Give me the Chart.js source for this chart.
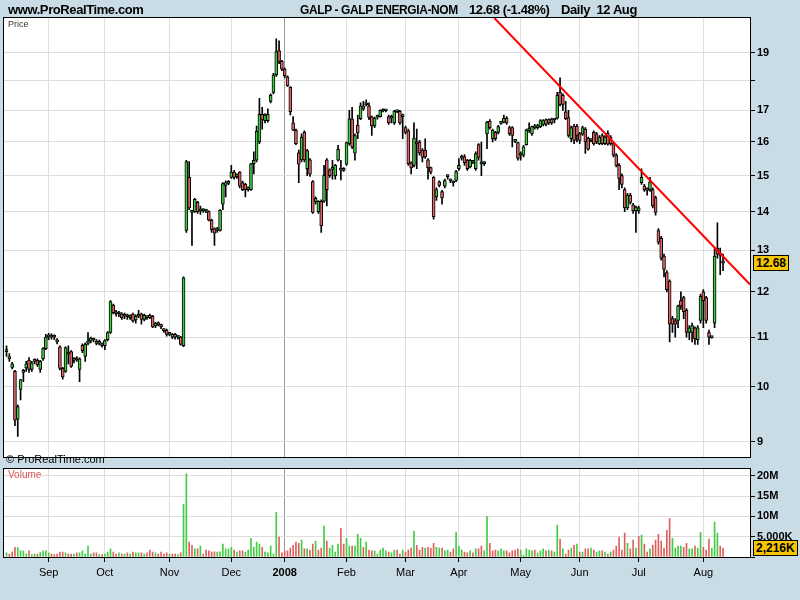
<!DOCTYPE html>
<html><head><meta charset="utf-8">
<script src="https://cdn.jsdelivr.net/npm/chart.js@4.4.1/dist/chart.umd.min.js"></script>
<style>
html,body{margin:0;padding:0;background:#c9dbe5;width:800px;height:600px;overflow:hidden;font-family:"Liberation Sans",Arial,sans-serif;}
#wrap{position:relative;width:800px;height:600px;}
canvas{position:absolute;left:0;}
.t{position:absolute;white-space:pre;line-height:1;}
.hdr{top:3px;font-weight:bold;font-size:13px;color:#000;letter-spacing:-0.4px;}
.box{position:absolute;background:#f7c600;border:1px solid #000;font-weight:bold;font-size:12px;line-height:14px;padding:0 2px;color:#000;}
</style></head>
<body><div id="wrap">
<canvas id="pc" width="800" height="466" style="top:0"></canvas>
<canvas id="vc" width="800" height="140" style="top:460px"></canvas>
<div class="t hdr" style="left:8px">www.ProRealTime.com</div>
<div class="t hdr" style="left:300px;transform:scaleX(0.92);transform-origin:0 0">GALP - GALP ENERGIA-NOM</div>
<div class="t hdr" style="left:469px">12.68 (-1.48%)</div>
<div class="t hdr" style="left:561px">Daily  12 Aug</div>
<div class="t" style="left:8px;top:20px;font-size:9px;color:#333">Price</div>
<div class="t" style="left:6px;top:454px;font-size:11px;color:#000">© ProRealTime.com</div>
<div class="t" style="left:8px;top:470px;font-size:10px;color:#d85858">Volume</div>
<div id="lastP" class="box" style="left:753px;top:260px">12.68</div>
<div id="lastV" class="box" style="left:753px;top:540px">2,216K</div>
</div>
<script>
const startDate = '2007-08-13';
const holidays = ['2007-12-25','2007-12-26','2008-01-01','2008-03-21','2008-03-24','2008-05-01'];
const monthNames = ['Jan','Feb','Mar','Apr','May','Jun','Jul','Aug','Sep','Oct','Nov','Dec'];

const openP = [
10.70,10.55,10.38,10.30,9.40,9.95,10.28,10.37,10.52,10.34,
10.50,10.52,10.34,10.55,10.76,11.00,11.00,11.03,10.90,10.80,
10.36,10.30,10.65,10.70,10.52,10.56,10.34,10.83,10.60,10.87,
10.92,10.94,10.92,10.87,10.84,10.82,10.95,11.10,11.70,11.55,
11.50,11.50,11.45,11.45,11.42,11.50,11.37,11.45,11.50,11.38,
11.42,11.47,11.45,11.24,11.30,11.27,11.14,11.15,11.06,11.00,
11.06,11.00,11.00,10.82,13.50,14.95,13.98,14.00,14.25,14.02,
14.02,14.01,14.00,13.77,13.55,13.50,13.50,14.20,14.72,14.78,
14.95,15.10,14.97,15.10,14.80,14.75,14.60,14.60,15.35,15.45,
16.00,16.87,16.67,16.67,17.30,17.60,18.20,19.07,18.68,18.40,
18.13,17.78,16.60,16.36,15.67,15.46,16.30,15.20,15.46,14.83,
14.26,14.00,14.28,14.28,15.46,15.17,15.18,15.00,15.45,15.16,
15.20,15.33,15.95,16.73,15.66,16.53,16.73,17.15,17.25,17.15,
16.79,16.50,16.78,16.80,16.98,16.99,16.80,16.80,16.60,16.96,
16.97,16.80,16.45,16.35,15.37,15.30,15.97,16.00,15.75,15.75,
15.46,15.23,14.95,14.40,14.82,14.55,14.70,14.97,14.85,14.79,
14.86,15.20,15.51,15.56,15.45,15.25,15.39,15.20,15.92,15.34,
15.35,16.25,16.65,16.10,16.30,16.30,16.58,16.62,16.75,16.45,
16.45,16.02,15.98,15.60,15.60,15.92,16.36,16.25,16.44,16.45,
16.48,16.55,16.70,16.60,16.72,16.69,16.75,17.60,17.50,16.95,
16.77,16.10,16.50,16.50,16.25,16.25,16.40,16.12,16.04,16.30,
16.25,15.95,16.20,15.95,16.28,16.15,15.95,15.60,15.30,15.00,
14.60,14.10,14.45,14.18,14.02,14.02,14.80,14.70,14.62,14.60,
14.60,14.38,13.50,13.30,12.85,12.45,12.25,11.40,11.35,11.36,
11.80,11.87,11.58,11.10,11.10,11.20,10.95,11.36,12.00,11.87,
11.10,10.99,11.30,13.05,12.90,12.72];
const highP = [
10.82,10.66,10.48,10.32,9.66,10.14,10.34,10.50,10.58,10.50,
10.55,10.55,10.52,10.78,11.06,11.08,11.07,11.05,10.97,10.82,
10.38,10.80,10.82,10.72,10.58,10.60,10.57,10.86,10.88,11.10,
11.00,10.98,10.95,10.94,10.88,10.95,11.12,11.80,11.72,11.58,
11.56,11.53,11.52,11.50,11.48,11.52,11.48,11.58,11.52,11.50,
11.46,11.50,11.47,11.32,11.33,11.28,11.18,11.17,11.10,11.08,
11.08,11.03,11.02,12.35,15.45,15.41,14.02,14.36,14.28,14.15,
14.08,14.06,14.02,13.80,13.57,13.58,14.05,14.80,14.85,14.86,
15.30,15.15,15.05,15.12,14.84,14.78,14.68,15.36,15.70,16.50,
17.40,17.10,16.90,17.05,17.55,18.25,19.50,19.43,18.72,18.45,
18.17,17.80,16.80,16.40,15.75,16.25,16.35,15.78,15.50,14.86,
14.40,14.30,14.32,15.30,15.50,15.20,15.45,15.33,15.90,15.45,
15.23,16.00,17.00,17.10,16.25,16.85,17.25,17.30,17.35,17.25,
16.82,16.78,16.85,17.02,17.05,17.03,16.85,16.85,17.00,17.00,
17.00,16.88,16.50,16.40,15.40,16.60,16.40,16.05,15.80,16.10,
15.50,15.25,14.97,14.65,14.85,14.58,14.90,15.02,14.90,14.85,
15.15,15.50,15.60,15.62,15.48,15.48,15.45,15.70,15.95,16.00,
15.40,16.65,16.70,16.40,16.33,16.52,16.65,16.85,16.80,16.50,
16.48,16.06,16.00,15.70,15.90,16.40,16.60,16.50,16.55,16.55,
16.70,16.70,16.73,16.73,16.75,16.73,17.60,18.10,17.55,17.30,
17.00,16.50,16.55,16.55,16.30,16.50,16.45,16.15,16.10,16.35,
16.30,16.20,16.25,16.20,16.35,16.20,16.00,15.65,15.35,15.05,
14.65,14.50,14.50,14.22,14.15,14.15,15.20,14.75,14.65,14.95,
14.65,14.42,13.55,13.35,12.90,12.50,12.28,11.45,11.40,11.70,
12.00,11.90,11.62,11.25,11.30,11.22,11.25,11.95,12.05,11.90,
11.15,11.02,13.05,13.70,13.05,12.90];
const lowP = [
10.60,10.50,10.35,9.28,9.09,9.75,10.10,10.30,10.28,10.30,
10.45,10.40,10.28,10.52,10.74,10.95,10.96,10.95,10.86,10.33,
10.15,10.28,10.45,10.38,10.47,10.50,10.10,10.68,10.50,10.84,
10.88,10.90,10.84,10.84,10.79,10.74,10.92,11.08,11.50,11.45,
11.44,11.38,11.40,11.38,11.38,11.32,11.30,11.42,11.28,11.35,
11.38,11.40,11.20,11.20,11.24,11.18,11.10,11.02,11.03,10.97,
10.96,10.96,10.83,10.80,13.45,14.05,13.12,13.98,13.95,13.92,
13.98,13.97,13.75,13.45,13.12,13.45,13.48,14.05,14.40,14.74,
14.92,14.90,14.92,14.65,14.57,14.40,14.56,14.58,15.05,15.40,
15.95,16.40,16.60,16.62,17.25,17.55,18.15,18.60,18.35,18.10,
17.80,16.85,16.35,15.92,14.80,15.40,15.40,15.00,14.98,13.95,
14.20,13.95,13.45,14.25,14.15,14.95,14.90,14.90,15.42,14.88,
15.12,15.30,15.90,15.80,15.45,16.10,16.70,17.00,17.15,16.70,
16.20,16.45,16.72,16.78,16.95,16.95,16.55,16.60,16.55,16.93,
16.55,16.10,16.25,15.30,15.05,15.25,15.20,15.60,15.40,15.50,
14.90,15.05,13.80,14.30,14.68,14.20,14.65,14.90,14.80,14.70,
14.83,15.15,15.45,15.30,15.15,15.22,15.35,15.15,15.45,15.00,
15.30,15.80,16.40,16.00,16.05,16.25,16.55,16.60,16.55,16.20,
15.85,15.98,15.45,15.45,15.55,15.90,16.30,16.20,16.40,16.40,
16.45,16.50,16.50,16.55,16.55,16.60,16.72,17.15,17.00,16.70,
16.15,16.00,15.95,16.00,15.95,16.20,15.65,15.75,16.00,15.90,
15.95,15.92,15.92,15.92,15.90,15.90,15.55,15.25,14.60,14.65,
14.00,14.05,14.20,13.95,13.45,13.95,14.75,14.55,14.45,14.55,
14.10,13.90,13.15,12.75,12.35,12.00,10.90,11.10,11.00,11.20,
11.60,11.40,11.00,10.95,10.90,10.85,10.85,11.30,11.20,11.30,
10.85,10.98,11.20,12.80,12.40,12.50];
const closeP = [
10.74,10.60,10.45,9.38,9.63,10.14,10.30,10.45,10.34,10.47,
10.52,10.43,10.50,10.76,11.00,11.05,11.04,11.00,10.93,10.36,
10.19,10.78,10.68,10.40,10.54,10.53,10.55,10.72,10.85,10.92,
10.98,10.96,10.87,10.90,10.82,10.93,11.10,11.78,11.53,11.50,
11.52,11.42,11.47,11.44,11.44,11.35,11.45,11.50,11.38,11.47,
11.43,11.42,11.22,11.30,11.27,11.22,11.15,11.06,11.07,11.06,
11.00,11.01,10.85,12.33,15.41,14.10,14.00,14.33,14.00,14.04,
14.03,14.02,13.77,13.52,13.43,13.55,14.03,14.77,14.80,14.82,
15.10,14.95,15.00,14.70,14.60,14.60,14.65,15.34,15.45,16.33,
16.87,16.69,16.85,16.87,17.50,18.20,19.03,18.68,18.40,18.17,
17.83,16.96,16.37,15.95,15.33,16.15,15.46,15.74,15.04,13.98,
14.36,14.28,13.62,15.01,14.60,15.00,15.22,15.30,15.78,15.18,
15.15,15.98,16.73,15.85,16.20,16.28,17.15,17.05,17.18,16.77,
16.50,16.75,16.80,17.00,17.00,17.00,16.60,16.75,16.98,16.97,
16.60,16.85,16.30,15.35,15.22,16.12,15.94,15.67,15.53,15.55,
15.23,15.10,13.86,14.60,14.72,14.37,14.86,14.98,14.86,14.80,
15.12,15.30,15.52,15.38,15.20,15.45,15.40,15.65,15.53,15.35,
15.36,16.62,16.45,16.36,16.10,16.48,16.62,16.75,16.60,16.25,
16.20,16.03,15.50,15.62,15.85,16.37,16.38,16.48,16.45,16.50,
16.67,16.67,16.55,16.70,16.60,16.70,17.50,17.20,17.20,16.73,
16.20,16.45,16.05,16.20,16.05,16.45,16.00,15.78,16.05,15.95,
16.00,16.15,15.95,16.15,15.93,15.95,15.60,15.30,14.92,14.75,
14.10,14.45,14.25,14.02,14.12,14.10,14.95,14.60,14.58,14.82,
14.15,13.98,13.20,12.80,12.53,12.05,11.28,11.28,11.28,11.68,
11.68,11.55,11.10,11.20,11.25,10.97,11.20,11.90,11.80,11.36,
11.00,11.00,12.85,12.90,12.87,12.68];
const volumeM = [
1.0,0.7,1.3,2.4,2.4,1.5,1.5,0.8,1.5,0.6,
0.7,0.7,1.1,1.5,1.5,1.0,0.7,0.6,0.7,1.2,
1.2,1.0,0.7,0.7,0.7,1.0,1.0,1.5,0.7,2.7,
0.7,1.0,1.0,0.6,0.6,0.7,1.2,2.0,1.2,0.7,
1.0,0.7,0.7,1.0,0.7,1.2,1.0,1.0,1.0,0.7,
1.0,1.7,1.2,1.0,0.7,1.2,0.7,1.0,0.7,0.7,
0.7,0.6,1.0,13.0,20.5,3.7,2.9,2.0,2.0,2.7,
0.7,1.7,1.5,1.3,1.3,1.2,1.3,3.2,2.0,2.0,
2.4,1.7,1.2,1.5,1.5,1.2,1.7,4.6,2.4,3.7,
3.2,2.4,1.3,1.0,2.7,0.7,11.0,4.9,1.0,1.5,
1.5,2.2,2.9,3.7,3.4,4.2,2.0,2.0,1.7,3.2,
3.9,1.7,2.2,7.6,3.9,2.2,2.9,1.2,3.2,7.1,
3.2,4.6,2.7,2.7,2.7,5.6,4.6,2.4,3.7,1.7,
1.5,1.5,0.7,1.7,2.2,1.5,1.2,1.0,1.7,1.7,
0.7,1.7,1.2,1.7,2.2,6.4,2.9,1.7,2.4,2.2,
2.4,2.2,3.4,2.4,2.2,2.2,1.5,1.7,1.2,2.0,
6.1,2.7,1.7,1.2,1.0,1.5,1.0,2.0,2.0,2.7,
1.5,10.0,3.4,1.5,1.7,1.5,2.0,1.5,1.5,1.0,
1.5,1.7,2.0,1.7,0.5,2.0,1.7,1.5,1.7,1.0,
1.5,2.0,1.5,1.7,1.5,1.2,7.8,4.4,2.0,0.7,
1.7,2.2,2.9,3.2,1.2,1.2,2.0,2.0,2.2,1.7,
1.2,1.5,1.5,1.2,0.7,1.2,1.7,2.7,4.9,1.7,
5.9,3.4,2.0,4.2,2.2,5.1,5.4,3.2,1.2,2.0,
2.9,4.2,5.6,3.9,2.2,6.6,9.5,4.6,2.2,2.7,
2.7,2.4,3.4,2.0,2.0,2.7,2.2,6.1,2.4,1.7,
4.4,2.2,8.6,5.9,2.7,2.216];

const priceTicks = [9,10,11,12,13,14,15,16,17,18,19];
const priceLabeled = [9,10,11,12,13,14,15,16,17,19];
const volumeTicks = [0,5,10,15,20];
const volumeTickLabels = ['', '5,000K', '10M', '15M', '20M'];
const trendX = [173.6, 264.6];   // trading-day index
const trendY = [20.30, 12.17];   // price
const lastClose = 12.68;
const lastVolumeM = 2.216;

function tradingDays(n){
  const out=[]; const d=new Date(startDate+'T12:00:00Z');
  while(out.length<n){
    const dow=d.getUTCDay(); const s=d.toISOString().slice(0,10);
    if(dow!==0&&dow!==6&&!holidays.includes(s)) out.push(s);
    d.setUTCDate(d.getUTCDate()+1);
  }
  return out;
}
const dates = tradingDays(openP.length);
const monthIdx = [], monthLbl = [];
dates.forEach((s,i)=>{ if(i>0 && s.slice(5,7)!==dates[i-1].slice(5,7)){ const m=+s.slice(5,7)-1; monthIdx.push(i); monthLbl.push(m===0? s.slice(0,4) : monthNames[m]); } });
const janIdx = monthIdx[monthLbl.findIndex(l=>/^\d{4}$/.test(l))];

const idx = openP.map((_,i)=>i);
const UP='#3fcc3f', DN='#e26565';
const bodyColors = idx.map(i=> closeP[i]>=openP[i] ? UP : DN);
const volColors = idx.map(i=> (i===0 ? closeP[i]>=openP[i] : closeP[i]>=closeP[i-1]) ? '#44cc44' : '#e06060');

const XMIN=-0.9, XMAX=264.6;
const gridColor = c => (c.tick && c.tick.value===janIdx) ? '#9a9a9a' : '#dedede';

const framePlugin = {
  id:'frame',
  beforeDraw(chart){ const a=chart.chartArea, c=chart.ctx; c.save(); c.fillStyle='#fff'; c.fillRect(a.left,a.top,a.right-a.left,a.bottom-a.top); c.restore(); },
  afterDraw(chart){ const a=chart.chartArea, c=chart.ctx; c.save(); c.strokeStyle='#000'; c.lineWidth=1; c.strokeRect(Math.round(a.left)-0.5,Math.round(a.top)-0.5,Math.round(a.right-a.left)+1,Math.round(a.bottom-a.top)+1); c.restore(); }
};
const monthTicks = s => { s.ticks = monthIdx.map(v=>({value:v})); };

const priceChart = new Chart(document.getElementById('pc'), {
  type:'bar',
  data:{ datasets:[
    { type:'line', data: trendX.map((x,i)=>({x, y:trendY[i]})), borderColor:'#ff0000', borderWidth:2, pointRadius:0, order:0 },
    { data: idx.map(i=>({x:i, y:[lowP[i], highP[i]]})), backgroundColor:'#000', barThickness:1, grouped:false, order:2 },
    { data: idx.map(i=>({x:i, y:[openP[i], closeP[i]]})), backgroundColor: bodyColors, borderColor:'#000', borderWidth:1, borderSkipped:false, barThickness:3, minBarLength:2, grouped:false, order:1 }
  ]},
  options:{
    responsive:false, animation:false, devicePixelRatio:1,
    layout:{ padding:{ left:4, top:18, right:0, bottom:1 } },
    plugins:{ legend:{display:false}, tooltip:{enabled:false} },
    scales:{
      x:{ type:'linear', min:XMIN, max:XMAX, offset:false, afterBuildTicks: monthTicks,
          ticks:{display:false}, border:{display:false},
          grid:{ color: gridColor, drawTicks:false, offset:false },
          afterFit: s=>{ s.height=0; } },
      y:{ type:'logarithmic', position:'right', min:8.733, max:20.30,
          afterBuildTicks: s=>{ s.ticks = priceTicks.map(v=>({value:v})); },
          ticks:{ callback: v => priceLabeled.includes(v) ? String(v) : '', color:'#000', padding:2,
                  font:{ family:'Liberation Sans', size:11, weight:'bold' } },
          border:{ display:true, color:'#000' },
          grid:{ color:'#dedede', tickColor:'#000', tickLength:5 },
          afterFit: s=>{ s.width=50; } }
    }
  },
  plugins:[framePlugin, { id:'lastP', afterDraw(chart){ const y=chart.scales.y.getPixelForValue(lastClose); document.getElementById('lastP').style.top=(Math.round(y)-8)+'px'; } }]
});

const volChart = new Chart(document.getElementById('vc'), {
  type:'bar',
  data:{ datasets:[ { data: idx.map(i=>({x:i, y:volumeM[i]})), backgroundColor: volColors, barThickness:1, grouped:false } ]},
  options:{
    responsive:false, animation:false, devicePixelRatio:1,
    layout:{ padding:{ left:4, top:8, right:0, bottom:0 } },
    plugins:{ legend:{display:false}, tooltip:{enabled:false} },
    scales:{
      x:{ type:'linear', min:XMIN, max:XMAX, offset:false, afterBuildTicks: monthTicks,
          ticks:{ callback: v => monthLbl[monthIdx.indexOf(v)], color:'#000', padding:4, maxRotation:0, autoSkip:false,
                  font: c => ({ family:'Liberation Sans', size: 11, weight: (c.tick && c.tick.value===janIdx) ? 'bold' : 'normal' }) },
          border:{ display:true, color:'#000' },
          grid:{ color: gridColor, tickColor:'#000', tickLength:5, offset:false },
          afterFit: s=>{ s.height=43; } },
      y:{ type:'linear', position:'right', min:0, max:21.8,
          afterBuildTicks: s=>{ s.ticks = volumeTicks.map(v=>({value:v})); },
          ticks:{ callback: v => volumeTickLabels[volumeTicks.indexOf(v)], color:'#000', padding:2,
                  font:{ family:'Liberation Sans', size:11, weight:'bold' } },
          border:{ display:true, color:'#000' },
          grid:{ color: c => (c.tick && c.tick.value===0) ? 'rgba(0,0,0,0)' : '#dedede', tickColor:'#000', tickLength:5 },
          afterFit: s=>{ s.width=50; } }
    }
  },
  plugins:[framePlugin, { id:'lastV', afterDraw(chart){ const y=chart.scales.y.getPixelForValue(lastVolumeM); document.getElementById('lastV').style.top=(460+Math.round(y)-8)+'px'; } }]
});
</script>
</body></html>
